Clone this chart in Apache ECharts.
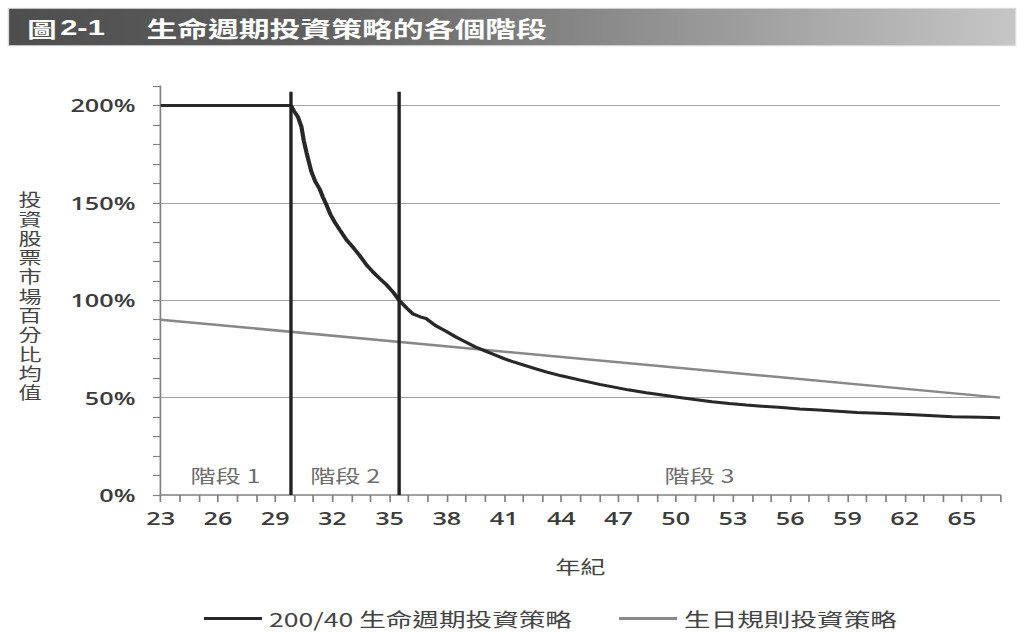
<!DOCTYPE html>
<html><head><meta charset="utf-8">
<script src="https://cdn.jsdelivr.net/npm/echarts@6/dist/echarts.min.js"></script>
<style>
html,body{margin:0;padding:0;background:#fff;overflow:hidden;}
#wrap{width:1024px;height:633px;overflow:hidden;position:relative;}
#chart{width:731px;height:633px;transform:scaleX(1.40082);transform-origin:0 0;}
</style></head><body>
<div id="wrap"><div id="chart"></div></div>
<script>
// ---- data ----
const titleNo = '圖';
const titleNum = '2-1';
const titleText = '生命週期投資策略的各個階段';
const yAxisTitle = '投資股票市場百分比均值';
const xAxisTitle = '年紀';
const seriesNames = ['200/40 生命週期投資策略', '生日規則投資策略'];
const lifecycleAges = [23, 29.83, 30.0, 30.2, 30.38, 30.5, 30.64, 30.9, 31.1, 31.34, 31.5, 31.69, 31.9, 32.13, 32.4, 32.74, 33.1, 33.43, 33.8, 34.13, 34.5, 34.83, 35.2, 35.5, 35.9, 36.22, 36.6, 36.93, 37.4, 37.97, 38.5, 39.0, 39.5, 40.0, 40.5, 41.0, 41.5, 42.0, 42.5, 43.2, 44.0, 45.0, 46.0, 46.7, 47.5, 48.45, 49.3, 50.2, 51.0, 51.9, 52.8, 53.7, 54.5, 55.4, 56.5, 57.5, 58.5, 59.5, 61.0, 62.5, 64.5, 66.0, 67.0];
const lifecycleValues = [200, 200, 197, 194, 189, 182, 176, 166, 161, 157, 153, 149, 144, 140, 136, 131, 127, 123, 118, 114.5, 111, 108, 104, 100, 96, 93, 91.5, 90.5, 87, 84, 81, 78.5, 76, 74, 72, 70, 68.3, 66.8, 65.3, 63.2, 61.2, 59, 56.8, 55.5, 54, 52.5, 51.3, 50.1, 49, 47.9, 47, 46.2, 45.6, 45, 44.2, 43.6, 43, 42.4, 41.9, 41.2, 40.2, 39.9, 39.7];
const birthdayAges = [23, 67];
const birthdayValues = [90, 50];
const phaseBoundaries = [29.83, 35.5];
const boundaryTop = 207;
const phaseLabels = ['階段 1', '階段 2', '階段 3'];
const phaseLabelAges = [26.4, 32.67, 51.25];
const phaseLabelLevel = 10;
const xMin = 23, xMax = 67, xTickStep = 1, xLabelStep = 3;
const yMin = 0, yMax = 210, yTickStep = 10, yLabelStep = 50;
const gridValues = [50, 100, 150, 200];

// ---- chart ----
const chart = echarts.init(document.getElementById('chart'), null, {renderer: 'svg'});
const zip = (a, b) => a.map((v, i) => [v, b[i]]);
const CJK = '"Noto Sans CJK TC", "Noto Sans CJK SC", sans-serif';
const NUM = '"Open Sans", "Noto Sans", sans-serif';
const TIGHT = '"Liberation Sans", "Noto Sans CJK TC", sans-serif';

const boundarySeries = phaseBoundaries.map((b, i) => ({
  name: 'boundary' + i, type: 'line', symbol: 'none', silent: true, z: 6,
  data: [[b, yMin], [b, boundaryTop]],
  lineStyle: {color: '#222', width: 2.4}
}));

// vertical y-axis title: one text per character
const yTitleChars = yAxisTitle.split('');
const yTitlePitch = 19.3;
const yTitleTop = 297 - (yTitleChars.length * yTitlePitch) / 2 + yTitlePitch / 2;
const yTitleGraphics = yTitleChars.map((c, i) => ({
  type: 'text', x: 21.4, y: yTitleTop + i * yTitlePitch,
  style: {text: c, fill: '#444', fontFamily: TIGHT, fontSize: 16.5, lineHeight: 16.5, align: 'center', verticalAlign: 'middle'}
}));

chart.setOption({
  animation: false,
  backgroundColor: '#fff',
  grid: {left: 114.7, right: 17.1, top: 86, bottom: 138},
  xAxis: {
    type: 'value', min: xMin, max: xMax, interval: xTickStep,
    name: xAxisTitle, nameLocation: 'middle', nameGap: 62,
    nameTextStyle: {fontFamily: CJK, fontSize: 18, color: '#444'},
    axisLine: {lineStyle: {color: '#808080', width: 1.5}},
    axisTick: {show: true, length: 7, lineStyle: {color: '#808080', width: 1.2}},
    axisLabel: {
      margin: 14, fontFamily: NUM, fontSize: 18, fontWeight: 600, color: '#3c3c3c',
      formatter: v => (Math.round(v - xMin) % xLabelStep === 0 ? String(Math.round(v)) : '')
    },
    splitLine: {show: false}
  },
  yAxis: {
    type: 'value', min: yMin, max: yMax, interval: yTickStep,
    axisLine: {show: true, lineStyle: {color: '#808080', width: 1.2}},
    axisTick: {show: true, length: 5.5, lineStyle: {color: '#808080', width: 1.2}},
    axisLabel: {
      margin: 18, fontFamily: NUM, fontSize: 18, fontWeight: 600, color: '#3c3c3c',
      formatter: v => (Math.round(v) % yLabelStep === 0 ? Math.round(v) + '%' : '')
    },
    splitLine: {show: false}
  },
  legend: {
    data: [
      {name: seriesNames[0], icon: 'rect', itemStyle: {color: '#282828'}},
      {name: seriesNames[1], icon: 'rect', itemStyle: {color: '#888'}}
    ],
    left: 140.6, top: 604, itemWidth: 41.4, itemHeight: 3, itemGap: 33.5,
    textStyle: {fontFamily: CJK, fontSize: 19, color: '#444'}
  },
  graphic: [
    {type: 'rect', shape: {x: 6, y: 8.3, width: 719, height: 37.4},
     style: {fill: new echarts.graphic.LinearGradient(0, 0, 1, 0, [
       {offset: 0, color: '#4e4e4e'}, {offset: 0.3, color: '#5f5f5f'}, {offset: 1, color: '#c6c6c6'}]),
       stroke: '#dcdcdc', lineWidth: 1}},
    {type: 'text', x: 19.5, y: 27.5, style: {text: titleNo, fill: '#fff', fontFamily: CJK, fontSize: 21, fontWeight: 'bold', verticalAlign: 'middle'}},
    {type: 'text', x: 43, y: 27.5, style: {text: titleNum, fill: '#fff', fontFamily: '"Liberation Sans", Arial, sans-serif', fontSize: 22, fontWeight: 'bold', verticalAlign: 'middle'}},
    {type: 'text', x: 104.5, y: 27.5, style: {text: titleText, fill: '#fff', fontFamily: CJK, fontSize: 22, fontWeight: 'bold', verticalAlign: 'middle'}},
    ...yTitleGraphics
  ],
  series: [
    {
      name: seriesNames[1], type: 'line', symbol: 'none', z: 3,
      data: zip(birthdayAges, birthdayValues),
      lineStyle: {color: '#888', width: 2.5}, itemStyle: {color: '#888'},
      markLine: {
        silent: true, symbol: 'none', z: 1, animation: false,
        label: {show: false},
        lineStyle: {color: '#a3a3a3', width: 1, type: 'solid'},
        emphasis: {disabled: true},
        data: gridValues.map(v => ({yAxis: v}))
      }
    },
    {
      name: seriesNames[0], type: 'line', symbol: 'none', z: 5,
      data: zip(lifecycleAges, lifecycleValues),
      lineStyle: {color: '#282828', width: 3}, itemStyle: {color: '#282828'}
    },
    ...boundarySeries,
    {
      name: 'phases', type: 'scatter', symbolSize: 1, silent: true, z: 7,
      itemStyle: {color: 'transparent'},
      data: phaseLabels.map((t, i) => ({name: t, value: [phaseLabelAges[i], phaseLabelLevel]})),
      label: {show: true, position: 'inside', formatter: p => p.name,
        fontFamily: CJK, fontSize: 18, color: '#454545'}
    }
  ]
});
</script>
</body></html>
